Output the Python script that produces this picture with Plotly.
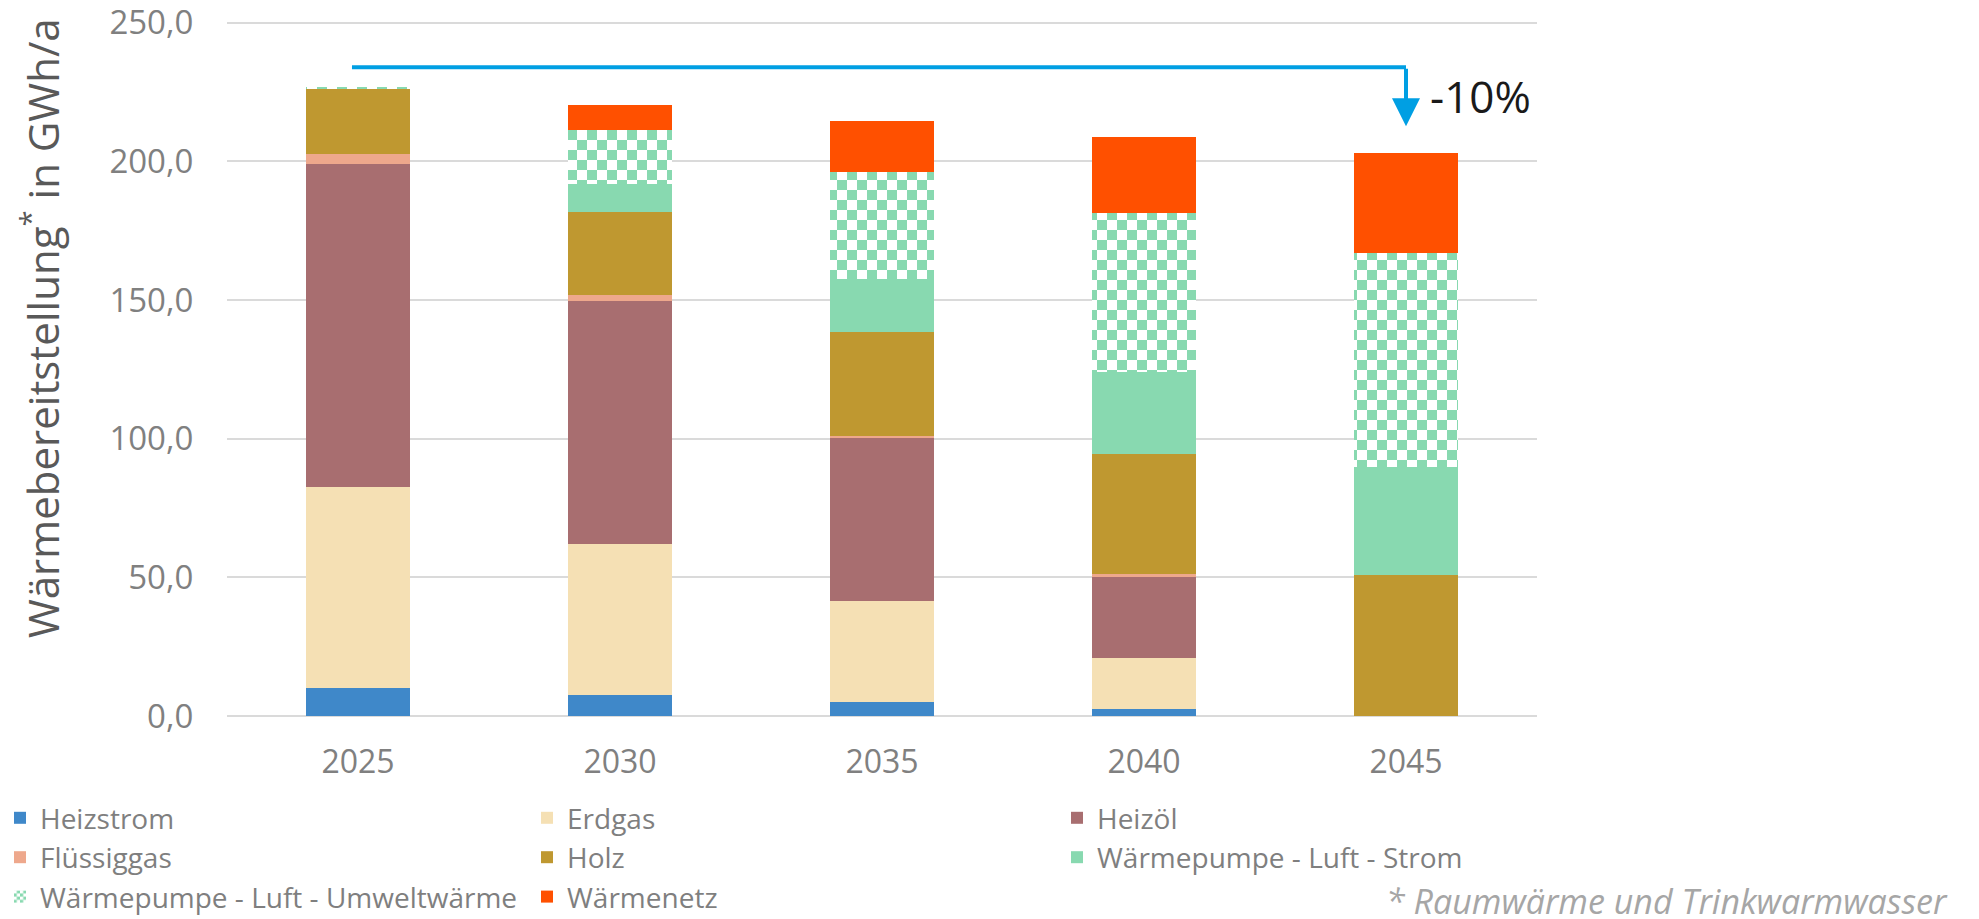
import plotly.graph_objects as go

# Heat supply by source (GWh/a) per scenario year
years = ["2025", "2030", "2035", "2040", "2045"]
heizstrom = [10.0, 7.6, 5.2, 2.4, 0.0]
erdgas = [72.7, 54.5, 36.4, 18.4, 0.0]
heizoel = [116.3, 87.6, 58.7, 29.2, 0.0]
fluessiggas = [3.7, 2.2, 0.8, 1.1, 0.0]
holz = [23.6, 30.0, 37.3, 43.4, 50.8]
wp_strom = [0.0, 10.0, 19.2, 29.4, 39.0]
wp_umwelt = [0.3, 19.5, 38.5, 57.4, 77.0]
waermenetz = [0.0, 9.1, 18.3, 27.4, 36.1]

# name, values, colour, pattern, legend column
series = [
    ("Heizstrom", heizstrom, "#3F88C9", None, "legend"),
    ("Erdgas", erdgas, "#F5E0B4", None, "legend2"),
    ("Heizöl", heizoel, "#A86E70", None, "legend3"),
    ("Flüssiggas", fluessiggas, "#EEA88C", None, "legend"),
    ("Holz", holz, "#BF9830", None, "legend2"),
    ("Wärmepumpe - Luft - Strom", wp_strom, "#88D9B0", None, "legend3"),
    ("Wärmepumpe - Luft - Umweltwärme", wp_umwelt, "#88D9B0", "checker", "legend"),
    ("Wärmenetz", waermenetz, "#FF5000", None, "legend2"),
]

reduction_label = "-10%"


def checker(cell):
    return dict(
        path=f"M0,0H{cell}V{cell}H0Z M{cell},{cell}H{2 * cell}V{2 * cell}H{cell}Z",
        size=2 * cell,
        fgcolor="#FFFFFF",
        fgopacity=1,
        fillmode="overlay",
    )


fig = go.Figure()
for name, vals, color, pat, leg in series:
    marker = dict(color=color, line=dict(width=0))
    if pat == "checker":
        marker["pattern"] = checker(10)
        fig.add_trace(go.Bar(x=years, y=vals, name=name, marker=marker,
                             legend=leg, legendgroup=name, showlegend=False))
        # legend entry with a finer checker so it reads in the small swatch
        fig.add_trace(go.Bar(x=[None], y=[None], name=name, legend=leg,
                             legendgroup=name,
                             marker=dict(color=color, line=dict(width=0),
                                         pattern=checker(4))))
    else:
        fig.add_trace(go.Bar(x=years, y=vals, name=name, marker=marker, legend=leg))

grid = "#DADADA"
legend_font = dict(size=28, color="#7F7F7F")

# plot area in pixels
PL, PR, PT, PB = 227, 442, 20, 203
PW, PH = 1979 - PL - PR, 919 - PT - PB


def legend_column(x):
    return dict(
        orientation="v",
        xref="container",
        yref="container",
        x=x,
        y=0.137,
        xanchor="left",
        yanchor="top",
        traceorder="normal",
        bgcolor="rgba(0,0,0,0)",
        font=legend_font,
        itemwidth=30,
        tracegroupgap=0,
    )


fig.update_layout(
    width=1979,
    height=919,
    barmode="stack",
    bargap=0.603,
    separators=",.",
    plot_bgcolor="white",
    paper_bgcolor="white",
    margin=dict(l=PL, r=PR, t=PT, b=PB, autoexpand=False),
    font=dict(family="Open Sans", color="#7F7F7F"),
    xaxis=dict(
        type="category",
        showgrid=False,
        showline=False,
        ticks="outside",
        ticklen=18,
        tickcolor="rgba(0,0,0,0)",
        tickfont=dict(size=32, color="#808080"),
        automargin=False,
    ),
    yaxis=dict(
        range=[0, 251],
        tickvals=[0, 50, 100, 150, 200, 250],
        tickformat=".1f",
        showgrid=True,
        gridcolor=grid,
        gridwidth=2,
        zeroline=True,
        zerolinecolor=grid,
        zerolinewidth=2,
        showline=False,
        ticks="outside",
        ticklen=26,
        tickcolor="rgba(0,0,0,0)",
        tickfont=dict(size=33, color="#808080"),
        ticklabeloverflow="allow",
        automargin=False,
    ),
    legend=legend_column(0.0),
    legend2=legend_column((545 - 18) / 1979),
    legend3=legend_column((1075 - 18) / 1979),
    showlegend=True,
)

# Y axis title with superscript asterisk
fig.add_annotation(
    text="Wärmebereitstellung<sup>*</sup> in GWh/a",
    textangle=-90,
    xref="paper", yref="paper",
    x=(40 - PL) / PW, y=(919 - PB - 328) / PH,
    xanchor="center", yanchor="middle",
    showarrow=False,
    font=dict(size=42, color="#595959"),
)

# Reduction arrow from the first to the last year
arrow_color = "#009FE3"
arrow_level = 234.0
arrow_tip = 212.7
fig.add_shape(
    type="line", xref="x", yref="y",
    x0=-0.023, x1=4, y0=arrow_level, y1=arrow_level,
    line=dict(color=arrow_color, width=4),
)
fig.add_annotation(
    x=4, y=arrow_tip, ax=4, ay=arrow_level,
    xref="x", yref="y", axref="x", ayref="y",
    showarrow=True, arrowhead=2, arrowsize=1.4, arrowwidth=4,
    arrowcolor=arrow_color, text="",
)
fig.add_annotation(
    x=4, y=223.5, xref="x", yref="y",
    text=reduction_label, showarrow=False,
    xanchor="left", yanchor="middle", xshift=22,
    font=dict(size=44, color="#1A1A1A"),
)

# Footnote
fig.add_annotation(
    text="<i>* Raumwärme und Trinkwarmwasser</i>",
    xref="paper", yref="paper",
    x=(1950 - PL) / PW, y=-(901 - (919 - PB)) / PH,
    xanchor="right", yanchor="middle",
    showarrow=False,
    font=dict(size=34, color="#A6A6A6"),
)

fig.write_html("out.html")
